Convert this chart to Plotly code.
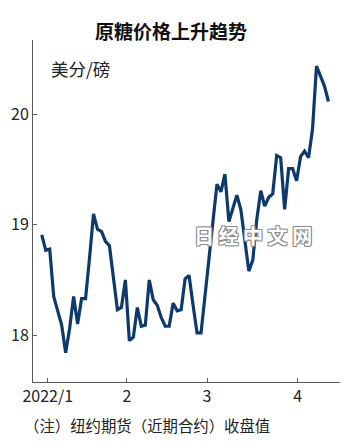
import plotly.graph_objects as go

# Raw sugar, New York front-month futures, daily close (US cents per pound)
prices = [
    18.91, 18.77, 18.78, 18.35, 18.22, 18.09, 17.84, 18.06, 18.35, 18.10,
    18.33, 18.33, 18.70, 19.10, 18.96, 18.94, 18.85, 18.81, 18.52, 18.23,
    18.25, 18.50, 17.95, 17.98, 18.25, 18.08, 18.09, 18.50, 18.32, 18.27,
    18.16, 18.08, 18.08, 18.29, 18.22, 18.23, 18.51, 18.54, 18.27, 18.02,
    18.02, 18.36, 18.70, 19.04, 19.37, 19.30, 19.46, 19.03, 19.14, 19.27,
    19.14, 18.85, 18.58, 18.68, 19.05, 19.31, 19.17, 19.25, 19.28, 19.63,
    19.61, 19.14, 19.51, 19.51, 19.40, 19.62, 19.67, 19.61, 19.87, 20.44,
    20.35, 20.26, 20.12,
]
trading_day = list(range(len(prices)))

month_labels = ["2022/1", "2", "3", "4"]
month_start_day = [1.5, 21.4, 41.5, 64.3]

y_ticks = [18, 19, 20]

FONT = "Noto Sans CJK SC"
AXIS_GREY = "#5a5a5a"

fig = go.Figure(
    go.Scatter(
        x=trading_day,
        y=prices,
        mode="lines",
        line=dict(color="#0c3a6c", width=3.2),
        hoverinfo="skip",
    )
)

fig.update_layout(
    width=350,
    height=443,
    margin=dict(l=33, r=10, t=40, b=61),
    paper_bgcolor="white",
    plot_bgcolor="white",
    showlegend=False,
    font=dict(family=FONT, color="#222222"),
    xaxis=dict(
        range=[-2.2, 74.9],
        tickvals=month_start_day,
        ticktext=month_labels,
        ticks="inside",
        ticklen=4,
        tickwidth=1,
        tickcolor=AXIS_GREY,
        showline=True,
        linecolor=AXIS_GREY,
        linewidth=1,
        showgrid=False,
        zeroline=False,
        tickfont=dict(family=FONT, size=16, color="#222222"),
        fixedrange=True,
    ),
    yaxis=dict(
        range=[17.574, 20.678],
        tickvals=y_ticks,
        ticktext=[str(v) for v in y_ticks],
        ticks="inside",
        ticklen=4,
        tickwidth=1,
        tickcolor=AXIS_GREY,
        showline=True,
        linecolor=AXIS_GREY,
        linewidth=1,
        showgrid=False,
        zeroline=False,
        tickfont=dict(family=FONT, size=16, color="#222222"),
        fixedrange=True,
    ),
    annotations=[
        dict(
            text="<b>原糖价格上升趋势</b>",
            xref="paper", yref="paper",
            x=(170.5 - 33) / 307, y=1 + (40 - 30) / 342,
            xanchor="center", yanchor="middle",
            showarrow=False,
            font=dict(family=FONT, size=19, color="#111111"),
        ),
        dict(
            text="美分/磅",
            xref="paper", yref="paper",
            x=(49 - 33) / 307, y=1 - (69 - 40) / 342,
            xanchor="left", yanchor="middle",
            showarrow=False,
            font=dict(family=FONT, size=17.5, color="#222222"),
        ),
        dict(
            text="（注）纽约期货（近期合约）收盘值",
            xref="paper", yref="paper",
            x=(22 - 33) / 307, y=-(425 - 382) / 342,
            xanchor="left", yanchor="middle",
            showarrow=False,
            font=dict(family=FONT, size=15.4, color="#222222"),
        ),
        dict(
            text="<b>日 经 中 文 网</b>",
            xref="paper", yref="paper",
            x=(253 - 33) / 307, y=1 - (235 - 40) / 342,
            xanchor="center", yanchor="middle",
            showarrow=False,
            font=dict(
                family=FONT, size=20, color="white",
                shadow="-1px -1px 0 #8a8a8a, 1px -1px 0 #8a8a8a, -1px 1px 0 #8a8a8a, 1px 1px 0 #8a8a8a",
            ),
        ),
    ],
)

fig.write_html("out.html")
